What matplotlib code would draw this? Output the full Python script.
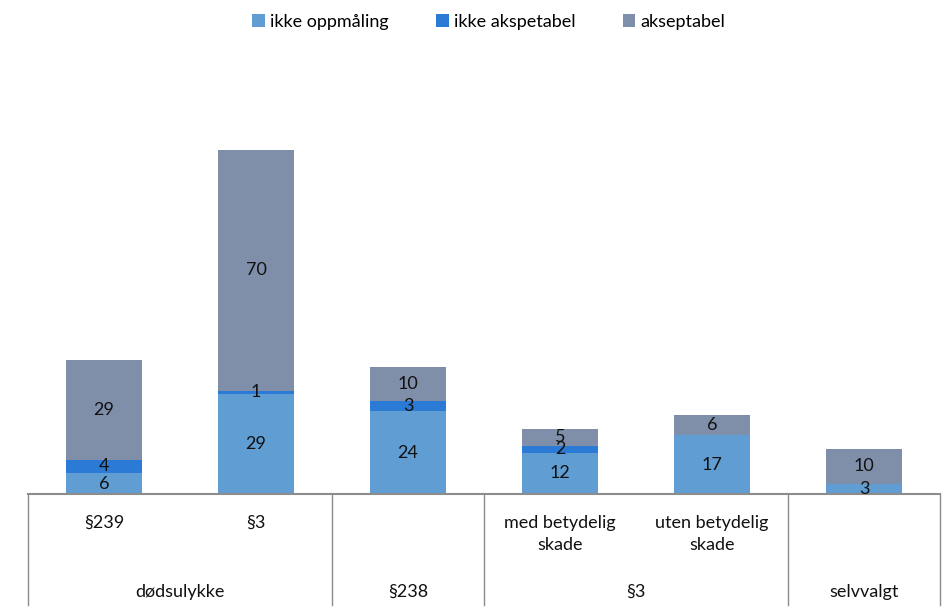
import numpy as np
import matplotlib.pyplot as plt
import matplotlib.transforms as mtransforms

plt.rcParams['font.family'] = ['Lato', 'DejaVu Sans']

categories = ["§239", "§3", "", "med betydelig\nskade", "uten betydelig\nskade", ""]
groups = ["dødsulykke", "§238", "§3", "selvvalgt"]
group_spans = [(0, 1), (2, 2), (3, 4), (5, 5)]

series_names = ["ikke oppmåling", "ikke akspetabel", "akseptabel"]
ikke_oppmaling = [6, 29, 24, 12, 17, 3]
ikke_akseptabel = [4, 1, 3, 2, 0, 0]
akseptabel = [29, 70, 10, 5, 6, 10]
colors = ["#5f9dd3", "#2b7bd6", "#7f8faa"]

W, H = 947, 613
fig = plt.figure(figsize=(W / 100, H / 100), dpi=100)
ax_left, ax_right, ax_bottom, ax_top = 28, 940, 494, 81
ax = fig.add_axes([ax_left / W, (H - ax_bottom) / H,
                   (ax_right - ax_left) / W, (ax_bottom - ax_top) / H])

x = np.arange(len(categories))
bottom = np.zeros(len(categories))
for name, vals, col in zip(series_names, [ikke_oppmaling, ikke_akseptabel, akseptabel], colors):
    vals = np.array(vals, dtype=float)
    ax.bar(x, vals, width=0.5, bottom=bottom, color=col, label=name)
    for xi, b, v in zip(x, bottom, vals):
        if v > 0:
            ax.text(xi, b + v / 2, f"{int(v)}", ha="center", va="center",
                    fontsize=13, color="#111111")
    bottom += vals

ax.set_xlim(-0.5, len(categories) - 0.5)
ax.set_ylim(0, 120)
for s in ax.spines.values():
    s.set_visible(False)
ax.set_xticks([])
ax.set_yticks([])

# multi-level category axis
trans = mtransforms.blended_transform_factory(ax.transData, ax.transAxes)
axis_h = ax_bottom - ax_top
line_bottom = -(605 - ax_bottom) / axis_h
ax.plot([-0.5, len(categories) - 0.5], [0, 0], transform=trans, color="#8c8c8c",
        lw=1.5, clip_on=False)
bounds = [-0.5] + [g[1] + 0.5 for g in group_spans]
for b in bounds:
    ax.plot([b, b], [0, line_bottom], transform=trans, color="#8c8c8c",
            lw=1, clip_on=False)

cat_y = -(515 - ax_bottom) / axis_h
for xi, lab in zip(x, categories):
    ax.text(xi, cat_y, lab, transform=trans, ha="center", va="top",
            fontsize=13, linespacing=1.45, color="#111111")

grp_y = -(592 - ax_bottom) / axis_h
for g, (a, b) in zip(groups, group_spans):
    ax.text((a + b) / 2, grp_y, g, transform=trans, ha="center", va="center",
            fontsize=13, color="#111111")

fig.legend(loc="center", bbox_to_anchor=(489 / W, 1 - 22 / H), ncol=3,
           frameon=False, fontsize=13, handlelength=0.7, handleheight=0.7,
           handletextpad=0.3, columnspacing=2.6)

fig.savefig("out.png", dpi=100)
